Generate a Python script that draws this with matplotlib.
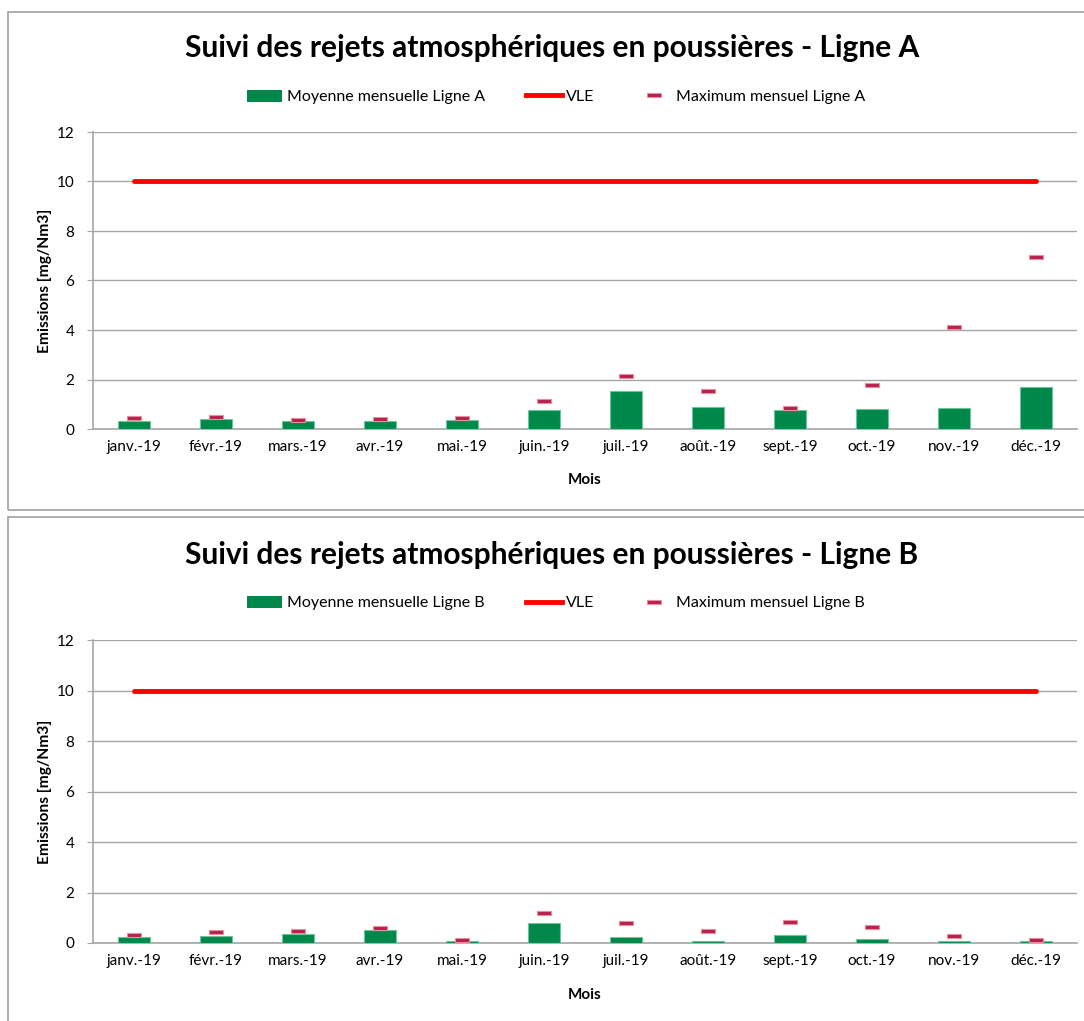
import matplotlib
matplotlib.use("Agg")
import matplotlib.pyplot as plt
from matplotlib.patches import Rectangle
from matplotlib.lines import Line2D
import numpy as np

plt.rcParams['font.family'] = ['Lato', 'DejaVu Sans']

months = ["janv.-19", "févr.-19", "mars.-19", "avr.-19", "mai.-19", "juin.-19",
          "juil.-19", "août.-19", "sept.-19", "oct.-19", "nov.-19", "déc.-19"]
mean_A = [0.34, 0.39, 0.31, 0.34, 0.36, 0.77, 1.55, 0.90, 0.77, 0.80, 0.84, 1.68]
max_A = [0.44, 0.47, 0.38, 0.39, 0.44, 1.14, 2.15, 1.55, 0.84, 1.77, 4.12, 6.93]
mean_B = [0.24, 0.29, 0.37, 0.53, 0.09, 0.79, 0.24, 0.09, 0.33, 0.16, 0.08, 0.08]
max_B = [0.30, 0.42, 0.46, 0.60, 0.13, 1.20, 0.79, 0.47, 0.82, 0.65, 0.29, 0.13]
vle = [10] * 12
yticks = [0, 2, 4, 6, 8, 10, 12]

W, H = 1084, 1021
fig = plt.figure(figsize=(W / 100, H / 100), dpi=100)

GREEN = '#00884A'
RED = '#FF0000'
MAXC = '#B81E4F'
MAXE = '#E8909A'
GRID = '#A6A6A6'

dash = [(-1, -0.3), (1, -0.3), (1, 0.3), (-1, 0.3), (-1, -0.3)]

def fy(p):
    return 1 - p / H

def draw(box_top, box_bot, ax_top, ax_bot, title_y, leg_y, xlabel_y, mean, mx, line):
    fig.patches.append(Rectangle((8 / W, fy(box_bot)), 1.1, fy(box_top) - fy(box_bot),
                                 transform=fig.transFigure, fill=False,
                                 edgecolor='#A0A0A0', linewidth=1.2))
    ax = fig.add_axes([93 / W, fy(ax_bot), (1077 - 93) / W, fy(ax_top) - fy(ax_bot)])
    x = np.arange(len(months))
    ax.bar(x, mean, width=0.39, color=GREEN, edgecolor='#6CC49A', linewidth=0.8, zorder=3)
    ax.plot(x, vle, color=RED, lw=3.5, solid_capstyle='round', zorder=4)
    ax.plot(x, mx, linestyle='none', marker=dash, markersize=10,
            markerfacecolor=MAXC, markeredgecolor=MAXE, markeredgewidth=0.8, zorder=5)
    ax.set_xlim(-0.5, len(months) - 0.5)
    ax.set_ylim(0, 12)
    ax.set_yticks(yticks)
    ax.set_yticklabels([str(v) for v in yticks], fontsize=11)
    ax.set_xticks(x)
    ax.set_xticklabels(months, fontsize=11)
    ax.tick_params(axis='x', length=0, pad=8)
    ax.tick_params(axis='y', length=4.5, color=GRID, pad=9)
    ax.grid(axis='y', color=GRID, lw=1, zorder=0)
    for s in ['top', 'right']:
        ax.spines[s].set_visible(False)
    ax.spines['left'].set_color(GRID)
    ax.spines['bottom'].set_color(GRID)
    ax.spines['left'].set_linewidth(1.2)
    ax.spines['bottom'].set_linewidth(1.2)
    fig.text(552 / W, fy(title_y), "Suivi des rejets atmosphériques en poussières - Ligne " + line,
             ha='center', va='center', fontsize=21.5, fontweight='bold')
    fig.text(45 / W, (fy(ax_top) + fy(ax_bot)) / 2, "Emissions [mg/Nm3]", rotation=90,
             ha='center', va='center', fontsize=11.2, fontweight='bold')
    fig.text(585 / W, fy(xlabel_y), "Mois", ha='center', va='center', fontsize=11,
             fontweight='bold')
    handles = [
        Rectangle((0, 0), 1, 1, facecolor=GREEN, edgecolor='none'),
        Line2D([0], [0], color=RED, lw=3.5),
        Line2D([0], [0], linestyle='none', marker=dash, markersize=10,
               markerfacecolor=MAXC, markeredgecolor=MAXE, markeredgewidth=0.8),
    ]
    labels = ["Moyenne mensuelle Ligne " + line, "VLE", "Maximum mensuel Ligne " + line]
    fig.legend(handles, labels, loc='center', bbox_to_anchor=(0.513, fy(leg_y)), ncol=3,
               frameon=False, fontsize=11.5, handlelength=2.2, handleheight=0.8,
               handletextpad=0.3, columnspacing=2.6)

draw(12, 510, 132, 429, 48, 97, 480, mean_A, max_A, "A")
draw(517, 1030, 640, 943, 555, 603, 995, mean_B, max_B, "B")

fig.savefig("out.png", dpi=100)
